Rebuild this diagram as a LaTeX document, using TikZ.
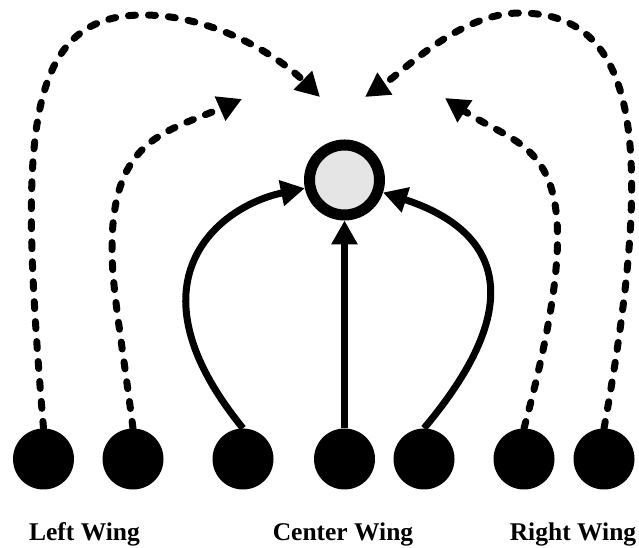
\documentclass[tikz,border=0pt]{standalone}
\usepackage{fontspec}
\setmainfont{Liberation Serif}
\usetikzlibrary{arrows.meta}
\newcommand{\wingfont}{\fontsize{25.5}{30}\selectfont\bfseries}

\begin{document}
\begin{tikzpicture}[x=1pt,y=1pt]
    \tikzstyle{hubvertex}=[circle,fill=black!10,draw=black,line width=11pt,minimum size=70pt,inner sep=0pt]
    \tikzstyle{pvertex}=[circle,fill=black,minimum size=61pt,inner sep=0pt]
    \tikzstyle{wing}=[font=\wingfont,anchor=base]
    \tikzstyle{link}=[line width=7pt,-{Triangle[length=24pt,width=25pt]}]
    \tikzstyle{weaklink}=[link,dash pattern=on 7pt off 13pt,line cap=round]

    \useasboundingbox (0,0) rectangle (639,548);

    \node[hubvertex] (hub) at (344.5,368) {};
    \node[pvertex] (p1) at (43.5,89)  {};
    \node[pvertex] (p2) at (133,89)   {};
    \node[pvertex] (p3) at (243,89)   {};
    \node[pvertex] (p4) at (344.5,89) {};
    \node[pvertex] (p5) at (424,89)   {};
    \node[pvertex] (p6) at (524,89)   {};
    \node[pvertex] (p7) at (604,89)   {};

    \node[wing] (lblL) at (84.5,7) {Left Wing};
    \node[wing] (lblC) at (343,7)  {Center Wing};
    \node[wing] (lblR) at (573,7)  {Right Wing};

    \coordinate (tLo) at (320,451);
    \coordinate (tLi) at (242,449);
    \coordinate (tRi) at (445,450);
    \coordinate (tRo) at (365,451);

    \draw[link] (p4) -- (hub);
    \draw[link] (p3.north) .. controls (123,267) and (219,342) .. (hub);
    \draw[link] (p5.north) .. controls (546,265) and (477,325) .. (hub);

    \draw[weaklink] (p1.north) .. controls (20,400) and (20,533) .. (143,533) .. controls (210,533) and (275,495) .. (tLo);
    \draw[weaklink] (p2.north) .. controls (120,220) and (112,260) .. (112,300) .. controls (112,410) and (167,416) .. (tLi);
    \draw[weaklink] (p6.north) .. controls (602,409) and (528,394) .. (tRi);
    \draw[weaklink] (p7.north) .. controls (655,400) and (640,535) .. (520,535) .. controls (460,535) and (405,478) .. (tRo);
\end{tikzpicture}
\end{document}
